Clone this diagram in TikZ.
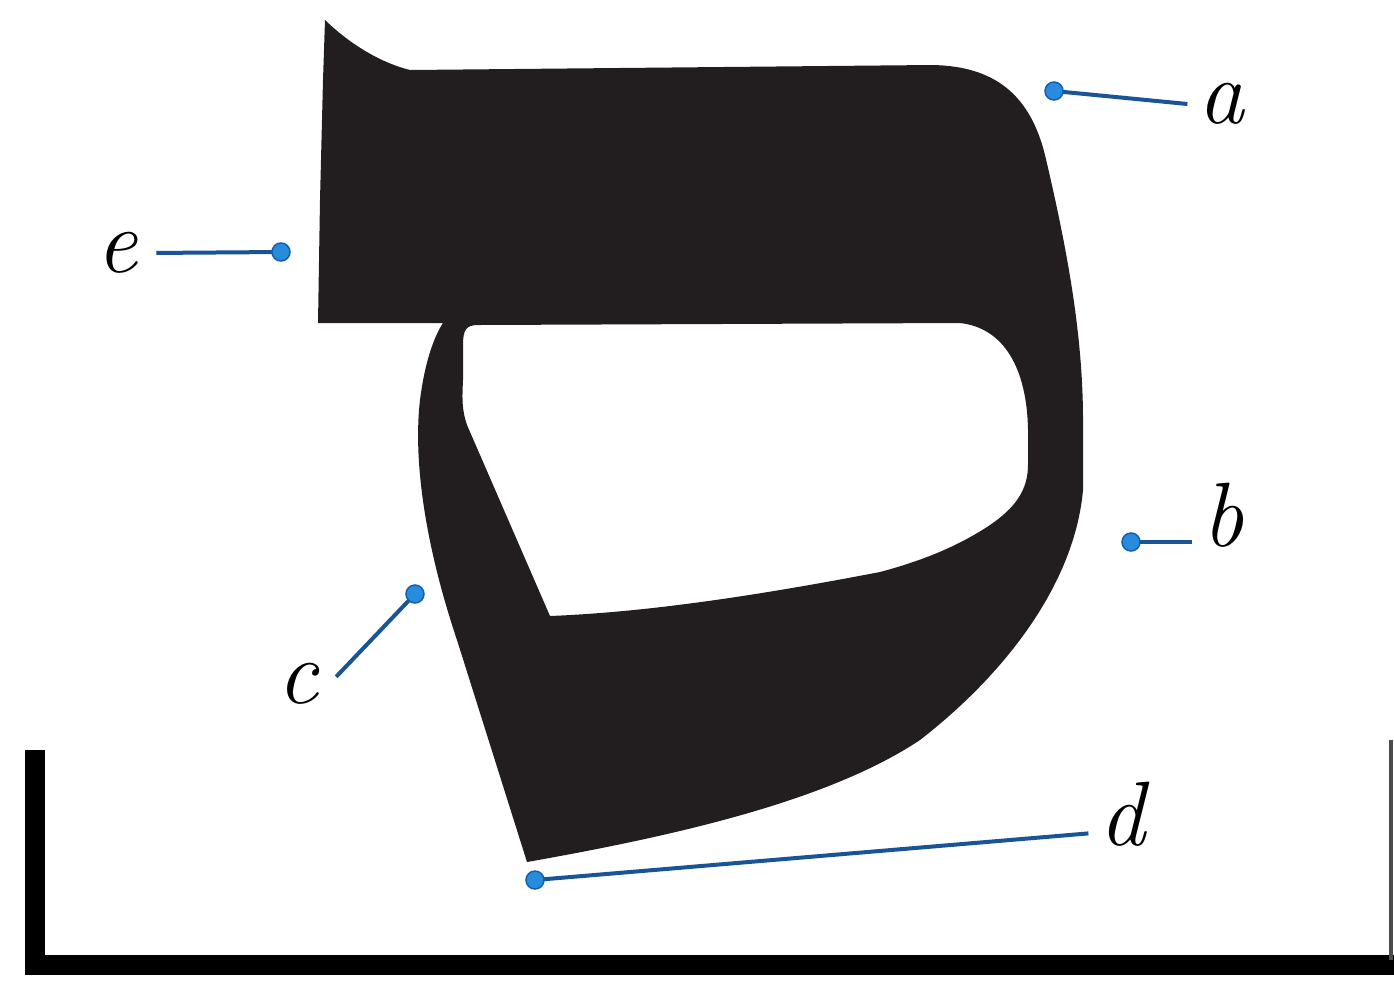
\documentclass[tikz,border=0pt]{standalone}
\definecolor{ink}{RGB}{34,30,31}
\definecolor{leadline}{RGB}{25,85,150}
\definecolor{dotfill}{RGB}{40,140,220}
\definecolor{dotedge}{RGB}{20,95,175}
\begin{document}
\begin{tikzpicture}[x=0.01cm,y=-0.01cm,
  lbl/.style={font=\fontsize{26}{30}\selectfont\itshape, inner sep=0.1cm},
  leader/.style={draw=leadline, line width=0.04cm},
  pin/.style={fill=dotfill, draw=dotedge, line width=0.015cm},
  frame/.style={draw=black, line width=0.2cm}]
\useasboundingbox (0,0) rectangle (1394,981);
% glyph shape
\fill[ink, even odd rule]
 (325,20) .. controls (352,46) and (382,63) .. (410,70)
 -- (932,65)
 .. controls (995,66) and (1030,95) .. (1045,155)
 .. controls (1065,240) and (1083,330) .. (1083,420)
 -- (1083,490)
 .. controls (1075,580) and (1010,670) .. (920,740)
 .. controls (830,800) and (680,835) .. (527,862)
 -- (457,640)
 .. controls (430,560) and (412,470) .. (420,400)
 .. controls (425,360) and (435,335) .. (443,323)
 -- (318,323) -- (320,200) -- (323,80) -- cycle
 (463,345) .. controls (463,330) and (466,325) .. (478,325)
 -- (960,323)
 .. controls (1005,328) and (1027,370) .. (1028,430)
 -- (1028,465)
 .. controls (1028,490) and (1015,508) .. (990,525)
 .. controls (960,545) and (925,560) .. (880,572)
 .. controls (760,595) and (650,612) .. (550,616)
 -- (467,425)
 .. controls (462,410) and (462,400) .. (463,380)
 -- cycle;
% frame
\draw[frame] (35,750) -- (35,965) -- (1394,965);
\draw[draw=black!70, line width=0.04cm] (1391,740) -- (1391,960);
% pins
\coordinate (pa) at (1054,91);
\coordinate (pb) at (1131,542);
\coordinate (pc) at (415,594);
\coordinate (pd) at (535,880);
\coordinate (pe) at (281,252);
% labels
\node[lbl] (la) at (1221,104) {a};
\node[lbl] (lb) at (1223,515) {b};
\node[lbl] (lc) at (298,684) {c};
\node[lbl] (ld) at (1122,814) {d};
\node[lbl] (le) at (117,253) {e};
% leaders
\draw[leader] (pa) -- (la.west);
\draw[leader] (pb) -- (pb -| lb.west);
\draw[leader, shorten >=0.1cm] (pc) -- (lc.east);
\draw[leader] (pd) -- (ld.210);
\draw[leader, shorten >=0.08cm] (pe) -- (le.east);
\foreach \p in {pa,pb,pc,pd,pe}
  \filldraw[pin] (\p) circle[radius=0.09cm];
\end{tikzpicture}
\end{document}
